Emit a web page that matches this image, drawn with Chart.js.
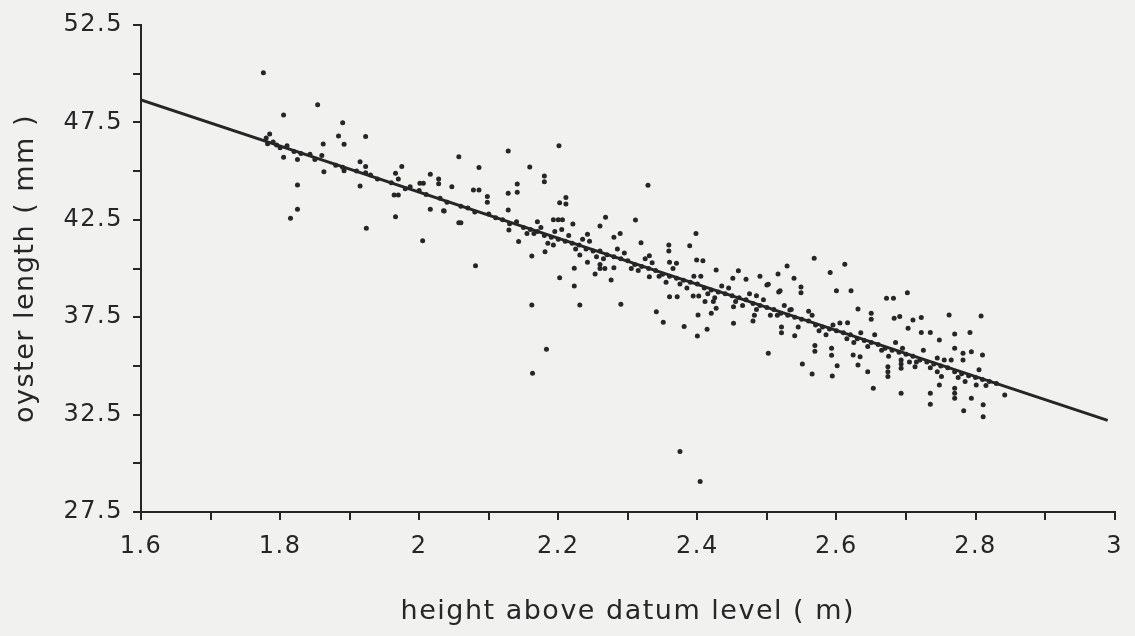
<!DOCTYPE html>
<html>
<head>
<meta charset="utf-8">
<script src="https://cdn.jsdelivr.net/npm/chart.js@4.4.0/dist/chart.umd.min.js"></script>
<style>
  body { margin: 0; background: #f1f1ef; }
  #wrap { width: 1135px; height: 636px; }
</style>
</head>
<body>
<div id="wrap"><canvas id="oysterChart"></canvas></div>
<script>
// scattered oysters away from the fitted line
const outlierPoints = [
  [1.776, 50.05], [1.805, 47.88], [1.854, 48.41], [1.890, 47.48], [1.884, 46.8],
  [1.892, 46.38], [1.862, 46.39], [1.923, 46.77], [1.795, 46.34], [1.805, 45.71],
  [1.825, 45.6], [1.825, 44.29], [1.825, 43.04], [1.815, 42.58], [1.843, 45.86],
  [1.863, 44.97], [1.892, 45.02], [1.915, 45.48], [1.915, 44.24], [1.923, 45.23],
  [1.923, 44.92], [1.924, 42.06], [1.966, 44.89], [1.975, 45.23], [1.964, 43.77],
  [1.970, 43.77], [1.966, 42.66], [1.987, 44.2], [2.001, 44.37], [2.006, 44.37],
  [2.016, 44.84], [2.028, 44.6], [2.028, 44.35], [2.047, 44.2], [2.057, 45.74],
  [2.016, 43.04], [2.035, 42.97], [2.005, 41.43], [2.057, 42.35], [2.128, 46.03],
  [2.201, 46.3], [2.086, 45.19], [2.159, 45.21], [2.18, 44.75], [2.18, 44.45],
  [2.078, 44.03], [2.086, 44.03], [2.098, 43.7], [2.098, 43.4], [2.141, 44.34],
  [2.141, 43.91], [2.128, 43.86], [2.211, 43.65], [2.202, 43.38], [2.211, 43.31],
  [2.329, 44.27], [2.036, 42.95], [2.06, 42.35], [2.128, 43.0], [2.129, 41.98],
  [2.143, 41.38], [2.162, 40.64], [2.081, 40.14], [2.181, 40.86], [2.193, 41.21],
  [2.202, 39.53], [2.162, 38.13], [2.193, 42.5], [2.200, 42.5], [2.206, 42.5],
  [2.221, 42.28], [2.268, 42.63], [2.311, 42.49], [2.26, 42.18], [2.242, 41.76],
  [2.28, 41.6], [2.289, 41.8], [2.319, 41.32], [2.398, 41.8], [2.389, 41.17],
  [2.359, 41.2], [2.359, 40.9], [2.331, 40.66], [2.36, 40.32], [2.37, 40.27],
  [2.399, 40.44], [2.408, 40.4], [2.427, 39.92], [2.459, 39.89], [2.451, 39.5],
  [2.49, 39.6], [2.502, 39.19], [2.516, 39.72], [2.231, 40.69], [2.242, 40.32],
  [2.26, 40.2], [2.26, 40.0], [2.267, 40.0], [2.28, 40.04], [2.223, 40.01],
  [2.253, 39.72], [2.223, 39.1], [2.276, 39.41], [2.231, 38.13], [2.29, 38.16],
  [2.341, 37.78], [2.331, 39.58], [2.36, 38.55], [2.371, 38.55], [2.394, 38.59],
  [2.402, 38.59], [2.411, 38.3], [2.423, 38.3], [2.427, 37.96], [2.401, 37.61],
  [2.42, 37.7], [2.452, 38.04], [2.47, 39.45], [2.517, 38.8], [2.568, 40.52],
  [2.529, 40.13], [2.612, 40.22], [2.591, 39.8], [2.539, 39.5], [2.5, 39.15],
  [2.549, 39.05], [2.549, 38.75], [2.519, 38.86], [2.6, 38.86], [2.621, 38.86],
  [2.672, 38.47], [2.682, 38.47], [2.702, 38.76], [2.631, 37.92], [2.65, 37.7],
  [2.65, 37.4], [2.683, 37.44], [2.691, 37.53], [2.71, 37.36], [2.722, 37.49],
  [2.762, 37.61], [2.808, 37.56], [2.616, 37.22], [2.703, 36.93], [2.722, 36.72],
  [2.735, 36.72], [2.748, 36.33], [2.77, 36.64], [2.792, 36.72], [2.521, 37.0],
  [2.521, 36.7], [2.54, 36.55], [2.502, 35.65], [2.569, 36.05], [2.569, 35.75],
  [2.593, 35.9], [2.593, 35.55], [2.551, 35.1], [2.565, 34.58], [2.594, 34.48],
  [2.601, 35.01], [2.624, 35.56], [2.634, 35.47], [2.631, 35.05], [2.645, 34.7],
  [2.674, 34.96], [2.674, 34.7], [2.674, 34.45], [2.693, 35.3], [2.693, 35.1],
  [2.693, 34.88], [2.713, 34.96], [2.653, 33.85], [2.693, 33.59], [2.735, 33.59],
  [2.735, 33.03], [2.748, 34.02], [2.77, 33.85], [2.77, 33.6], [2.77, 33.34],
  [2.783, 32.7], [2.794, 33.34], [2.801, 34.02], [2.811, 33.0], [2.811, 32.39],
  [2.782, 35.65], [2.782, 35.3], [2.794, 35.73], [2.81, 35.56], [2.77, 35.9],
  [2.842, 33.51], [2.751, 34.45], [2.183, 35.85], [2.163, 34.62], [2.375, 30.6],
  [2.404, 29.06], [2.351, 37.24], [2.381, 37.02], [2.4, 36.54], [2.414, 36.88],
  [2.452, 37.19], [2.48, 37.3], [2.482, 37.6], [2.485, 37.9], [2.533, 37.87]
];

// dense band of oysters along the fitted line
const bandPoints = [
  [1.78, 46.7], [1.782, 46.4], [1.785, 46.9], [1.79, 46.5], [1.80, 46.2], [1.81, 46.3],
  [1.82, 46.0], [1.83, 45.9], [1.85, 45.6], [1.86, 45.8], [1.88, 45.3], [1.89, 45.2],
  [1.91, 45.0], [1.93, 44.8], [1.94, 44.6], [1.96, 44.4], [1.97, 44.6], [1.98, 44.1],
  [2.0, 44.0], [2.01, 43.8], [2.03, 43.6], [2.04, 43.4], [2.06, 43.2], [2.07, 43.1],
  [2.08, 42.9], [2.10, 42.8], [2.11, 42.6], [2.12, 42.5], [2.13, 42.3], [2.14, 42.4],
  [2.15, 42.1], [2.16, 42.0], [2.165, 41.8], [2.17, 41.9], [2.18, 41.7], [2.19, 41.6],
  [2.195, 41.9], [2.2, 41.5], [2.21, 41.4], [2.215, 41.7], [2.22, 41.3], [2.23, 41.2],
  [2.24, 41.0], [2.25, 40.9], [2.26, 40.9], [2.27, 40.7], [2.28, 40.6], [2.29, 40.5],
  [2.30, 40.4], [2.31, 40.2], [2.32, 40.1], [2.33, 40.0], [2.34, 39.9], [2.345, 39.6],
  [2.35, 39.7], [2.36, 39.6], [2.37, 39.5], [2.38, 39.4], [2.39, 39.3], [2.40, 39.2],
  [2.41, 39.0], [2.42, 38.9], [2.43, 38.8], [2.44, 38.7], [2.45, 38.6], [2.46, 38.5],
  [2.47, 38.4], [2.475, 38.7], [2.48, 38.2], [2.49, 38.1], [2.50, 38.0], [2.51, 37.9],
  [2.52, 37.7], [2.53, 37.6], [2.54, 37.5], [2.55, 37.4], [2.56, 37.3], [2.565, 37.6],
  [2.57, 37.1], [2.58, 37.0], [2.59, 36.9], [2.60, 36.8], [2.61, 36.7], [2.62, 36.6],
  [2.63, 36.4], [2.64, 36.3], [2.645, 36.0], [2.65, 36.2], [2.66, 36.1], [2.67, 35.9],
  [2.68, 35.8], [2.69, 35.7], [2.70, 35.6], [2.71, 35.5], [2.72, 35.3], [2.73, 35.2],
  [2.735, 34.9], [2.74, 35.1], [2.745, 35.4], [2.75, 35.0], [2.76, 34.9], [2.77, 34.7],
  [2.78, 34.6], [2.79, 34.5], [2.80, 34.4], [2.81, 34.3], [2.82, 34.2], [2.83, 34.1],
  [2.17, 42.4], [2.185, 41.3], [2.205, 42.0], [2.225, 41.0], [2.245, 41.4], [2.265, 40.5],
  [2.285, 41.0], [2.305, 40.0], [2.325, 40.5], [2.355, 39.3], [2.365, 40.0], [2.385, 39.0],
  [2.405, 39.6], [2.425, 38.5], [2.445, 39.0], [2.465, 38.1], [2.485, 38.6], [2.505, 37.6],
  [2.525, 38.1], [2.545, 37.0], [2.56, 37.8], [2.585, 36.6], [2.605, 37.2], [2.625, 36.2],
  [2.655, 36.6], [2.675, 35.5], [2.685, 36.2], [2.705, 35.2], [2.725, 35.8], [2.745, 34.7],
  [2.765, 35.3], [2.785, 34.2], [2.805, 34.8], [2.815, 34.0],
  [2.155, 41.8], [2.175, 42.1], [2.235, 41.5], [2.255, 40.6], [2.295, 40.8], [2.315, 39.9],
  [2.335, 40.3], [2.375, 39.2], [2.395, 39.6], [2.415, 38.7], [2.435, 39.1], [2.455, 38.3],
  [2.495, 38.4], [2.515, 37.6], [2.535, 37.9], [2.575, 36.8], [2.595, 37.1], [2.615, 36.4],
  [2.635, 36.7], [2.665, 35.8], [2.695, 35.9], [2.715, 35.2], [2.755, 35.3], [2.775, 34.4]
];

// fitted regression line ends
const fitHeights = [1.6, 2.99];
const fitLengths = [48.65, 32.2];

const xTitle = 'height above datum level ( m)';
const yTitle = 'oyster length ( mm )';

const ink = '#262626';

function toXY(list) {
    return list.map(p => ({ x: p[0], y: p[1] }));
}

const fitLine = fitHeights.map((h, i) => ({ x: h, y: fitLengths[i] }));

const spacing = {
    id: 'spacing',
    beforeUpdate(chart) { chart.ctx.letterSpacing = '1.5px'; },
    beforeDraw(chart) { chart.ctx.letterSpacing = '1.5px'; }
};

const ctx = document.getElementById('oysterChart').getContext('2d');
new Chart(ctx, {
    type: 'scatter',
    data: {
        datasets: [
            {
                data: toXY(outlierPoints.concat(bandPoints)),
                backgroundColor: ink,
                borderWidth: 0,
                pointRadius: 2.5
            },
            {
                type: 'line',
                data: fitLine,
                borderColor: ink,
                borderWidth: 3,
                pointRadius: 0,
                fill: false
            }
        ]
    },
    options: {
        responsive: true,
        maintainAspectRatio: false,
        animation: false,
        layout: { padding: { top: 25, right: 20, left: 0, bottom: 0 } },
        plugins: {
            legend: { display: false },
            tooltip: { enabled: false }
        },
        scales: {
            x: {
                type: 'linear',
                min: 1.6,
                max: 3,
                afterFit(scale) { scale.height = 124; },
                grid: { drawOnChartArea: false, tickLength: 8, color: ink, lineWidth: 2 },
                border: { display: true, color: ink, width: 2 },
                ticks: {
                    stepSize: 0.1,
                    padding: 12,
                    color: ink,
                    maxRotation: 0,
                    autoSkip: false,
                    font: { family: 'DejaVu Sans', size: 24 },
                    callback: function(v) {
                        const n = Math.round(v * 10);
                        return n % 2 === 0 ? String(n / 10) : '';
                    }
                },
                title: {
                    display: true,
                    text: xTitle,
                    color: ink,
                    padding: { top: 0, bottom: 8 },
                    font: { family: 'DejaVu Sans', size: 27 }
                }
            },
            y: {
                type: 'linear',
                min: 27.5,
                max: 52.5,
                afterFit(scale) { scale.width = 141; },
                grid: { drawOnChartArea: false, tickLength: 8, color: ink, lineWidth: 2 },
                border: { display: true, color: ink, width: 2 },
                ticks: {
                    stepSize: 2.5,
                    padding: 10,
                    color: ink,
                    autoSkip: false,
                    font: { family: 'DejaVu Sans', size: 24 },
                    callback: function(v) {
                        const n = Math.round((v - 27.5) / 2.5);
                        return n % 2 === 0 ? v.toFixed(1) : '';
                    }
                },
                title: {
                    display: true,
                    text: yTitle,
                    color: ink,
                    padding: { top: 10, bottom: 0 },
                    font: { family: 'DejaVu Sans', size: 27 }
                }
            }
        }
    },
    plugins: [spacing]
});
</script>
</body>
</html>
